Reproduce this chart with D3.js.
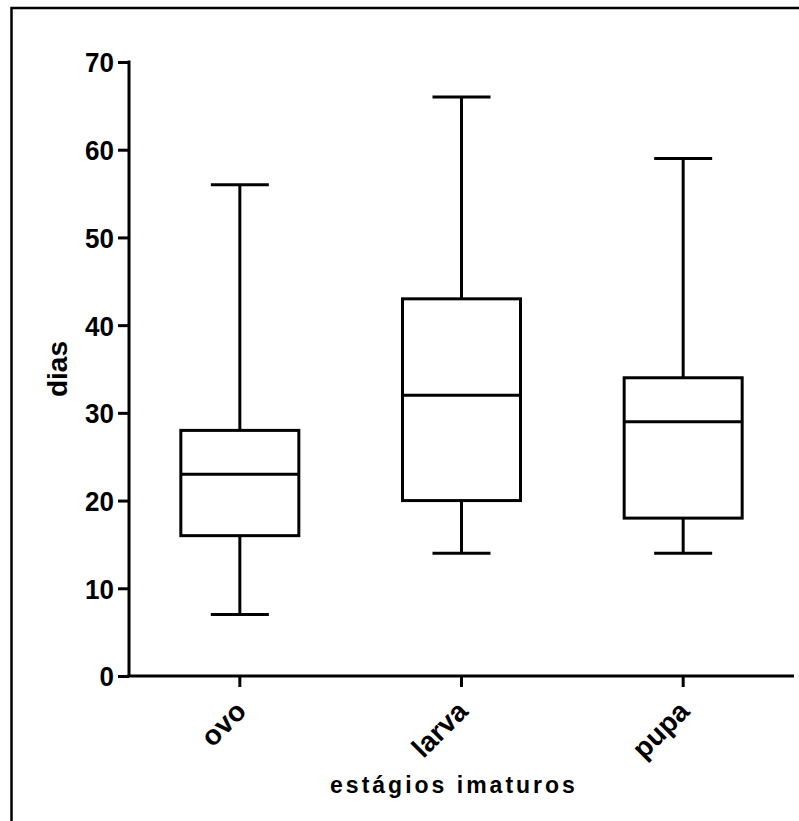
<!DOCTYPE html>
<html>
<head>
<meta charset="utf-8">
<script src="https://cdn.jsdelivr.net/npm/d3@7"></script>
<style>
  html, body { margin: 0; padding: 0; background: #fff; }
  svg { display: block; }
  text { font-family: "Liberation Sans", Arial, sans-serif; font-weight: bold; fill: #000; }
</style>
</head>
<body>
<svg id="chart" width="799" height="821"></svg>
<script>
// Development time (days) of immature stages
const categories = ["ovo", "larva", "pupa"];
const minValues    = [7, 14, 14];
const q1Values     = [16, 20, 18];
const medianValues = [23, 32, 29];
const q3Values     = [28, 43, 34];
const maxValues    = [56, 66, 59];
const yTicks = [0, 10, 20, 30, 40, 50, 60, 70];

const stats = categories.map((c, i) => ({
  cat: c, min: minValues[i], q1: q1Values[i], med: medianValues[i],
  q3: q3Values[i], max: maxValues[i]
}));

const svg = d3.select("#chart");
const plotLeft = 129, plotRight = 794, plotTop = 62, plotBottom = 676;

// outer frame
svg.append("rect")
  .attr("x", 11.5).attr("y", 8).attr("width", 800).attr("height", 830)
  .attr("fill", "none").attr("stroke", "#000").attr("stroke-width", 2.5);

const x = d3.scaleBand().domain(categories).range([plotLeft, plotRight]).paddingInner(0).paddingOuter(0);
const y = d3.scaleLinear().domain([0, 70]).range([plotBottom, plotTop]);

const lw = 3;

// y axis
const yAxis = svg.append("g").attr("transform", `translate(${plotLeft},0)`)
  .call(d3.axisLeft(y).tickValues(yTicks).tickSize(11).tickPadding(4).tickFormat(d3.format("d")));
yAxis.select(".domain").attr("stroke-width", lw).attr("d", `M0,${plotTop - 1.5}V${plotBottom}`);
yAxis.selectAll(".tick line").attr("stroke-width", lw);
yAxis.selectAll("text").style("font-size", "26px").attr("dy", "0.36em")
  .attr("transform", "scale(1,1.06)").attr("y", function() { return 0; });

// x axis
const xAxis = svg.append("g").attr("transform", `translate(0,${plotBottom})`)
  .call(d3.axisBottom(x).tickSize(11).tickSizeOuter(0));
xAxis.select(".domain").attr("stroke-width", lw).attr("d", `M${plotLeft - 1.5},0H${plotRight}`);
xAxis.selectAll(".tick line").attr("stroke-width", lw);
xAxis.selectAll("text")
  .style("font-size", "28px")
  .attr("text-anchor", "end")
  .attr("dy", "0.35em")
  .attr("transform", "translate(1,30) rotate(-45)")
  .attr("y", 0).attr("x", 0);

// boxes
const boxW = 118, capW = 58;
const g = svg.append("g").attr("stroke", "#000").attr("stroke-width", lw).attr("fill", "none");
stats.forEach(d => {
  const cx = x(d.cat) + x.bandwidth() / 2;
  // whiskers
  g.append("line").attr("x1", cx).attr("x2", cx).attr("y1", y(d.max)).attr("y2", y(d.q3));
  g.append("line").attr("x1", cx).attr("x2", cx).attr("y1", y(d.q1)).attr("y2", y(d.min));
  g.append("line").attr("x1", cx - capW / 2).attr("x2", cx + capW / 2).attr("y1", y(d.max)).attr("y2", y(d.max));
  g.append("line").attr("x1", cx - capW / 2).attr("x2", cx + capW / 2).attr("y1", y(d.min)).attr("y2", y(d.min));
  // box
  g.append("rect").attr("x", cx - boxW / 2).attr("width", boxW)
    .attr("y", y(d.q3)).attr("height", y(d.q1) - y(d.q3));
  // median
  g.append("line").attr("x1", cx - boxW / 2).attr("x2", cx + boxW / 2).attr("y1", y(d.med)).attr("y2", y(d.med));
});

// axis titles
svg.append("text")
  .attr("transform", `translate(${67},${y(35)}) rotate(-90)`)
  .attr("text-anchor", "middle")
  .style("font-size", "28px")
  .text("dias");

svg.append("text")
  .attr("x", 454).attr("y", 793)
  .attr("text-anchor", "middle")
  .style("font-size", "23px")
  .style("letter-spacing", "3px")
  .text("estágios imaturos");
</script>
</body>
</html>
